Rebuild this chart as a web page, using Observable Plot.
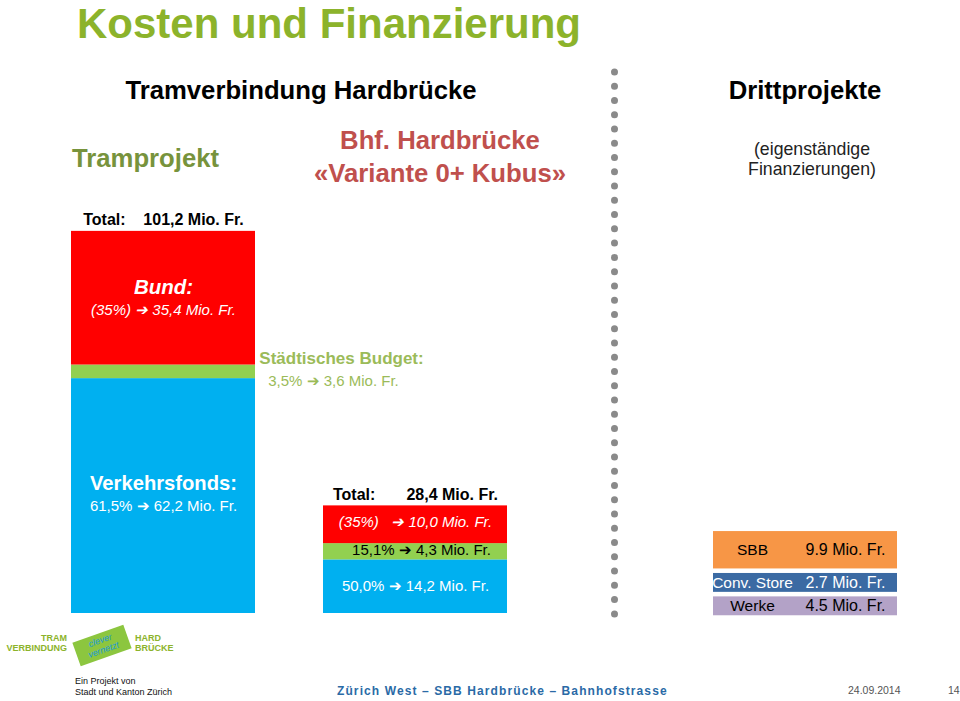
<!DOCTYPE html>
<html><head><meta charset="utf-8">
<script src="https://cdn.jsdelivr.net/npm/d3@7"></script>
<script src="https://cdn.jsdelivr.net/npm/@observablehq/plot@0.6"></script>
<style>
body{margin:0;background:#fff;font-family:"Liberation Sans",Arial,sans-serif;}
#page{position:relative;width:960px;height:701px;overflow:hidden;background:#fff;}
#title{height:50px;position:relative;}
#title h1{position:absolute;left:77px;top:0;margin:0;font-size:42px;line-height:47px;font-weight:bold;color:#8cb32b;white-space:nowrap;}
#chart{height:590px;}
#chart svg{display:block;}
#footer{height:61px;}
.abs{position:absolute;white-space:nowrap;line-height:1;}
.ctr{transform:translateX(-50%);text-align:center;}
</style></head><body>
<div id="page">
  <div id="title"><h1>Kosten und Finanzierung</h1></div>
  <div id="chart"></div>
  <div id="footer"></div>

  <div class="abs ctr" style="left:301px;top:78.3px;font-size:25.7px;font-weight:bold;color:#000;">Tramverbindung Hardbrücke</div>
  <div class="abs ctr" style="left:805px;top:78.3px;font-size:25.7px;font-weight:bold;color:#000;">Drittprojekte</div>
  <div class="abs ctr" style="left:812px;top:138.6px;font-size:17.7px;line-height:20px;color:#222;">(eigenständige<br>Finanzierungen)</div>
  <div class="abs" style="left:72px;top:146.3px;font-size:25.7px;font-weight:bold;color:#77933c;">Tramprojekt</div>
  <div class="abs ctr" style="left:440px;top:124px;font-size:25.7px;line-height:33px;font-weight:bold;color:#c0504d;">Bhf. Hardbrücke<br>«Variante 0+ Kubus»</div>

  <!-- logo -->
  <div class="abs" style="left:0;width:67px;top:633px;font-size:9px;line-height:10px;font-weight:bold;color:#8cb32b;text-align:right;">TRAM<br>VERBINDUNG</div>
  <div class="abs" style="left:75px;top:632.5px;width:54px;height:25px;background:#8cc63f;transform:rotate(-19.5deg);color:#1d9ad6;font-size:9px;line-height:10px;text-align:center;padding-top:2px;box-sizing:border-box;font-style:italic;">clever<br>vernetzt</div>
  <div class="abs" style="left:135px;top:633px;font-size:9px;line-height:10px;font-weight:bold;color:#8cb32b;">HARD<br>BRÜCKE</div>
  <div class="abs" style="left:75px;top:675.5px;font-size:9px;line-height:11px;color:#111;">Ein Projekt von<br>Stadt und Kanton Zürich</div>
  <div class="abs" style="left:337px;top:684.8px;font-size:12px;font-weight:bold;letter-spacing:1.1px;color:#2a6aa6;">Zürich West – SBB Hardbrücke – Bahnhofstrasse</div>
  <div class="abs" style="left:848px;top:685px;font-size:10.5px;color:#555;">24.09.2014</div>
  <div class="abs" style="left:948px;top:685px;font-size:10.5px;color:#555;">14</div>
</div>
<script>
// ---- data ----
const columns = ["Tramprojekt", "Bhf. Hardbrücke", "Drittprojekte"];
const sources = ["Verkehrsfonds", "Städtisches Budget", "Bund"]; // bottom to top
const tramValues = [62.2, 3.6, 35.4];
const tramShares = ["61,5%", "3,5%", "(35%)"];
const bhfValues = [14.2, 4.3, 10.0];
const bhfShares = ["50,0%", "15,1%", "(35%)"];
const totals = [101.2, 28.4];
const thirdParties = ["SBB", "Conv. Store", "Werke"]; // top to bottom
const thirdValues = [9.9, 2.7, 4.5];

// ---- styles ----
const sourceColors = {"Bund": "#ff0000", "Städtisches Budget": "#92d050", "Verkehrsfonds": "#00b0f0"};
const thirdColors = {"SBB": "#f79646", "Conv. Store": "#3b6aa3", "Werke": "#b3a2c7"};
const totalGap = {"Tramprojekt": "\u00a0\u00a0\u00a0\u00a0", "Bhf. Hardbrücke": "\u00a0\u00a0\u00a0\u00a0\u00a0\u00a0\u00a0"};
const fmt = v => v.toFixed(1).replace(".", ",");
const arrow = "\u2794";

function stackCol(col, values, shares) {
  let y = 0;
  return sources.map((s, i) => {
    const r = {col, source: s, value: values[i], share: shares[i], y1: y, y2: y + values[i]};
    y += values[i];
    return r;
  });
}
const segs = [...stackCol(columns[0], tramValues, tramShares), ...stackCol(columns[1], bhfValues, bhfShares)];
const totalRows = totals.map((t, i) => ({col: columns[i], total: t}));

// third-party boxes: value-proportional, with a minimum height for the label
const minBox = 5, gap = 1.2;
const third = [];
{
  let y = -0.6;
  for (let i = thirdParties.length - 1; i >= 0; --i) {
    const h = Math.max(thirdValues[i], minBox);
    third.push({col: columns[2], name: thirdParties[i], value: thirdValues[i], y1: y, y2: y + h});
    y += h + gap;
  }
}
const mid = d => (d.y1 + d.y2) / 2;
const tram = segs.filter(d => d.col === columns[0]);
const bhf = segs.filter(d => d.col === columns[1]);
const DX3 = 138;

const chart = Plot.plot({
  width: 960,
  height: 590,
  marginTop: 0,
  marginBottom: 27,
  marginLeft: 71,
  marginRight: 201,
  style: {fontFamily: "'Liberation Sans', Arial, sans-serif", background: "white", overflow: "visible"},
  x: {type: "band", domain: columns, paddingInner: 0.27, paddingOuter: 0, align: 0, axis: null},
  y: {domain: [0, 149.1], axis: null},
  color: {type: "identity"},
  marks: [
    Plot.barY(segs, {x: "col", y1: "y1", y2: "y2", fill: d => sourceColors[d.source]}),
    Plot.barY(third, {x: "col", y1: "y1", y2: "y2", fill: d => thirdColors[d.name], dx: DX3}),
    Plot.ruleX([columns[2]], {dx: -53, stroke: "#8a8a8a", strokeWidth: 7, strokeLinecap: "round",
      strokeDasharray: "0 14.26", insetTop: 22, insetBottom: -15}),
    // totals
    Plot.text(totalRows, {x: "col", y: "total", lineAnchor: "bottom", dy: -6, fontWeight: "bold", fontSize: 16, fill: "black",
      text: d => `Total:${totalGap[d.col]}${fmt(d.total)} Mio. Fr.`}),
    // Tramprojekt: Bund
    Plot.text(tram.filter(d => d.source === "Bund"), {x: "col", y: mid, dy: -11, text: d => d.source + ":",
      fontWeight: "bold", fontStyle: "italic", fontSize: 20.5, fill: "white"}),
    Plot.text(tram.filter(d => d.source === "Bund"), {x: "col", y: mid, dy: 12, text: d => `${d.share} ${arrow} ${fmt(d.value)} Mio. Fr.`,
      fontStyle: "italic", fontSize: 15, fill: "white"}),
    // Tramprojekt: Verkehrsfonds
    Plot.text(tram.filter(d => d.source === "Verkehrsfonds"), {x: "col", y: mid, dy: -13, text: d => d.source + ":",
      fontWeight: "bold", fontSize: 20.2, fill: "white"}),
    Plot.text(tram.filter(d => d.source === "Verkehrsfonds"), {x: "col", y: mid, dy: 10, text: d => `${d.share} ${arrow} ${fmt(d.value)} Mio. Fr.`,
      fontSize: 15, fill: "white"}),
    // Tramprojekt: Städtisches Budget (outside)
    Plot.text(tram.filter(d => d.source === "Städtisches Budget"), {x: "col", y: mid, dx: 178, dy: -13, text: d => d.source + ":",
      fontWeight: "bold", fontSize: 17, fill: "#9bbb59"}),
    Plot.text(tram.filter(d => d.source === "Städtisches Budget"), {x: "col", y: mid, dx: 170, dy: 9, text: d => `${d.share} ${arrow} ${fmt(d.value)} Mio. Fr.`,
      fontSize: 15, fill: "#9bbb59"}),
    // Bhf. Hardbrücke
    Plot.text(bhf.filter(d => d.source === "Bund"), {x: "col", y: mid, dy: -3, text: d => `${d.share}\u00a0\u00a0\u00a0${arrow} ${fmt(d.value)} Mio. Fr.`,
      fontStyle: "italic", fontSize: 15, fill: "white"}),
    Plot.text(bhf.filter(d => d.source === "Städtisches Budget"), {x: "col", y: mid, dx: 6, dy: -2, text: d => `${d.share} ${arrow} ${fmt(d.value)} Mio. Fr.`,
      fontSize: 15, fill: "black"}),
    Plot.text(bhf.filter(d => d.source === "Verkehrsfonds"), {x: "col", y: mid, dy: -1, text: d => `${d.share} ${arrow} ${fmt(d.value)} Mio. Fr.`,
      fontSize: 15, fill: "white"}),
    // Drittprojekte labels
    Plot.text(third, {x: "col", y: mid, dx: DX3 - 53, text: "name", fontSize: 15.5,
      fill: d => d.name === "Conv. Store" ? "white" : "black"}),
    Plot.text(third, {x: "col", y: mid, dx: DX3, textAnchor: "start", text: d => `${d.value.toFixed(1)} Mio. Fr.`, fontSize: 16,
      fill: d => d.name === "Conv. Store" ? "white" : "black"})
  ]
});
document.getElementById("chart").appendChild(chart);
</script>
</body></html>
